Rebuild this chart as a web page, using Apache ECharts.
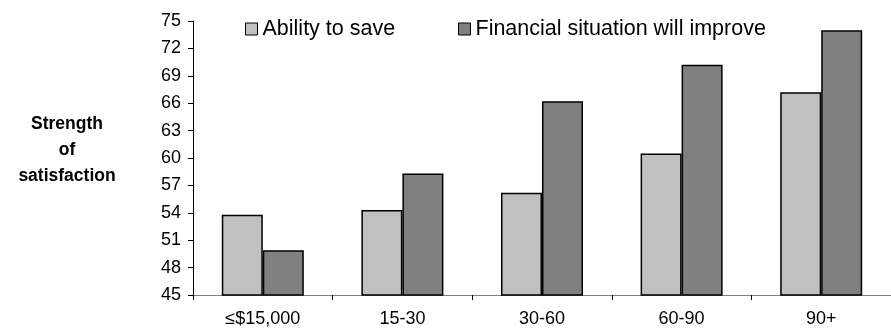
<!DOCTYPE html>
<html>
<head>
<meta charset="utf-8">
<script src="https://cdn.jsdelivr.net/npm/echarts@6/dist/echarts.min.js"></script>
<style>html,body{margin:0;padding:0;background:#fff;}#c{width:891px;height:329px;}</style>
</head>
<body>
<div id="c"></div>
<script>
var categories = ['≤$15,000', '15-30', '30-60', '60-90', '90+'];
var abilityToSave = [53.8, 54.3, 56.2, 60.5, 67.2];
var financialImprove = [49.9, 58.3, 66.2, 70.2, 74.0];
var seriesNames = ['Ability to save', 'Financial situation will improve'];
var yTitle = 'Strength\nof\nsatisfaction';

var FONT = '"Liberation Sans", Arial, sans-serif';
var chart = echarts.init(document.getElementById('c'), null, {renderer: 'canvas'});
chart.setOption({
  animation: false,
  backgroundColor: '#ffffff',
  grid: {left: 193, top: 21, bottom: 34, right: -12, containLabel: false},
  legend: [{
    data: [seriesNames[0]],
    left: 240, top: 13,
    icon: 'rect', itemWidth: 12, itemHeight: 12, itemGap: 8,
    textStyle: {fontFamily: FONT, fontSize: 21.5, color: '#000'},
    itemStyle: {borderColor: '#000', borderWidth: 1}
  }, {
    data: [seriesNames[1]],
    left: 453, top: 13,
    icon: 'rect', itemWidth: 12, itemHeight: 12, itemGap: 8,
    textStyle: {fontFamily: FONT, fontSize: 21.5, color: '#000'},
    itemStyle: {borderColor: '#000', borderWidth: 1}
  }],
  xAxis: {
    type: 'category',
    data: categories,
    axisLine: {lineStyle: {color: '#808080', width: 1}},
    axisTick: {show: true, length: 5, lineStyle: {color: '#000'}},
    axisLabel: {fontFamily: FONT, fontSize: 18, color: '#000', margin: 15}
  },
  yAxis: {
    type: 'value',
    min: 45, max: 75, interval: 3,
    splitLine: {show: false},
    axisLine: {show: true, lineStyle: {color: '#000', width: 1}},
    axisTick: {show: true, length: 5, lineStyle: {color: '#000'}},
    axisLabel: {fontFamily: FONT, fontSize: 18, color: '#000', margin: 12}
  },
  graphic: [{
    type: 'text',
    x: 67, y: 111,
    style: {
      text: yTitle,
      fontFamily: FONT, fontSize: 17.5, fontWeight: 'bold',
      fill: '#000', align: 'center', verticalAlign: 'top', lineHeight: 26
    }
  }],
  series: [{
    name: seriesNames[0], type: 'bar', data: abilityToSave,
    barWidth: 41, barGap: '0%',
    itemStyle: {color: '#C0C0C0', borderColor: '#000', borderWidth: 1.5}
  }, {
    name: seriesNames[1], type: 'bar', data: financialImprove,
    barWidth: 41, barGap: '0%',
    itemStyle: {color: '#808080', borderColor: '#000', borderWidth: 1.5}
  }]
});
</script>
</body>
</html>
